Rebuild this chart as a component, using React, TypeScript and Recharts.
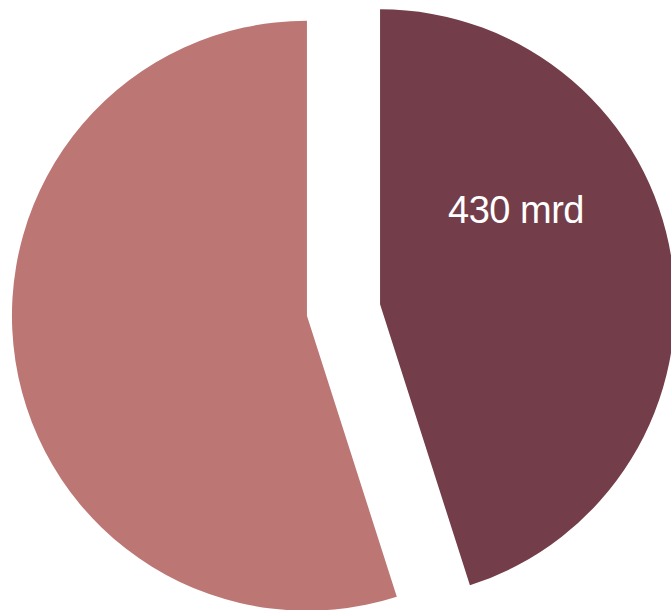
import { Cell, Pie, PieChart } from "recharts";

const labels = ["430 mrd", ""];
const values = [430, 524];
const colors = ["#733D4A", "#BC7775"];

const W = 671;
const H = 610;
const CENTER_X = 343.5;
const CENTER_Y = 310;
const RADIUS = 295;
const EXPLODE = 37;
const RAD = Math.PI / 180;

const rows = values.map((v, i) => ({ name: labels[i] || `slice${i}`, value: v }));
const total = values.reduce((a, b) => a + b, 0);

// clockwise from 12 o'clock, mid angle of each slice
function sliceOffset(index: number) {
  let before = 0;
  for (let i = 0; i < index; i++) before += values[i];
  const mid = ((before + values[index] / 2) / total) * 360;
  return {
    x: CENTER_X + EXPLODE * Math.sin(mid * RAD),
    y: CENTER_Y - EXPLODE * Math.cos(mid * RAD),
  };
}

function renderLabel(props: any) {
  const { cx, cy, outerRadius, index } = props;
  if (index !== 0) return null;
  const ang = 55.4 * RAD;
  const r = outerRadius * 0.56;
  return (
    <text
      x={cx + r * Math.sin(ang)}
      y={cy - r * Math.cos(ang)}
      fill="#ffffff"
      textAnchor="middle"
      dominantBaseline="central"
      fontSize={38}
      fontFamily="'Liberation Sans', Arial, sans-serif"
      letterSpacing={-0.5}
    >
      {labels[0]}
    </text>
  );
}

export default function App() {
  return (
    <div
      style={{
        position: "absolute",
        left: 0,
        top: 0,
        width: W,
        height: H,
        overflow: "hidden",
        background: "#ffffff",
      }}
    >
      <PieChart width={W} height={H} margin={{ top: 0, right: 0, bottom: 0, left: 0 }}>
        {values.map((_, slice) => {
          const c = sliceOffset(slice);
          return (
            <Pie
              key={slice}
              data={rows}
              dataKey="value"
              cx={c.x}
              cy={c.y}
              outerRadius={RADIUS}
              innerRadius={0}
              startAngle={90}
              endAngle={-270}
              stroke="none"
              label={slice === 0 ? renderLabel : false}
              labelLine={false}
              isAnimationActive={false}
            >
              {rows.map((_, i) => (
                <Cell key={i} fill={i === slice ? colors[i] : "transparent"} />
              ))}
            </Pie>
          );
        })}
      </PieChart>
    </div>
  );
}
